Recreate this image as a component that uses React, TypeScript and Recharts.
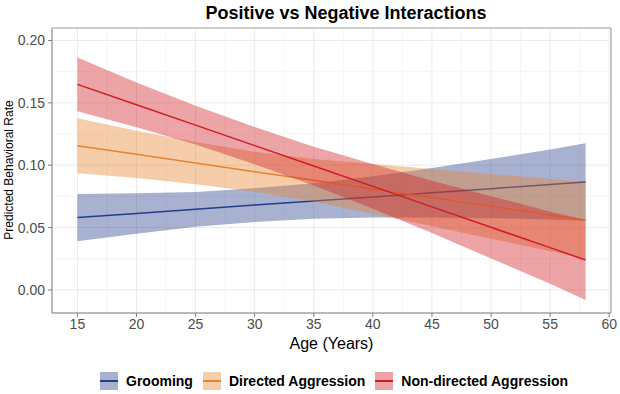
import React from 'react';
import { ComposedChart, Area, Line, XAxis, YAxis, CartesianGrid, ReferenceLine } from 'recharts';

const ages = [15, 20, 25, 30, 35, 40, 45, 50, 55, 58];

const groomingFit = [0.058, 0.0613, 0.0646, 0.068, 0.0713, 0.0746, 0.0779, 0.0812, 0.0845, 0.0865];
const groomingLower = [0.039, 0.045, 0.0506, 0.0545, 0.057, 0.058, 0.058, 0.0575, 0.0565, 0.0555];
const groomingUpper = [0.077, 0.0776, 0.0786, 0.0815, 0.0856, 0.0912, 0.0978, 0.105, 0.1125, 0.1175];

const directedFit = [0.1156, 0.1087, 0.1017, 0.0948, 0.0879, 0.081, 0.074, 0.067, 0.06, 0.056];
const directedLower = [0.0936, 0.0897, 0.0847, 0.0788, 0.0709, 0.061, 0.051, 0.041, 0.031, 0.025];
const directedUpper = [0.1376, 0.1277, 0.1187, 0.1108, 0.1049, 0.101, 0.097, 0.093, 0.089, 0.087];

const nonDirectedFit = [0.1648, 0.1484, 0.1321, 0.1157, 0.0993, 0.083, 0.0666, 0.0502, 0.0339, 0.024];
const nonDirectedLower = [0.1433, 0.1304, 0.1166, 0.1007, 0.0838, 0.065, 0.0456, 0.0252, 0.0049, -0.008];
const nonDirectedUpper = [0.1863, 0.1664, 0.1476, 0.1307, 0.1148, 0.101, 0.0876, 0.0752, 0.0629, 0.056];

const xTicks = [15, 20, 25, 30, 35, 40, 45, 50, 55, 60];
const xMinor = [17.5, 22.5, 27.5, 32.5, 37.5, 42.5, 47.5, 52.5, 57.5];
const yTicks = [0, 0.05, 0.1, 0.15, 0.2];
const yMinor = [0.025, 0.075, 0.125, 0.175];
const xDomain = [12.85, 60.15];
const yDomain = [-0.0185, 0.21];

const seriesNames = ['Grooming', 'Directed Aggression', 'Non-directed Aggression'];
const colors = ['#253c89', '#e8822e', '#d01c24'];

const data = ages.map((age, i) => ({
  age,
  gFit: groomingFit[i],
  gBand: [groomingLower[i], groomingUpper[i]],
  dFit: directedFit[i],
  dBand: [directedLower[i], directedUpper[i]],
  nFit: nonDirectedFit[i],
  nBand: [nonDirectedLower[i], nonDirectedUpper[i]],
}));

const FONT = '"Liberation Sans", Arial, Helvetica, sans-serif';

export default function App() {
  const keys = [
    ['gBand', 'gFit'],
    ['dBand', 'dFit'],
    ['nBand', 'nFit'],
  ];
  return (
    <div style={{ position: 'absolute', left: 0, top: 0, width: 620, height: 394, background: '#fff', fontFamily: FONT }}>
      <ComposedChart
        width={620}
        height={394}
        data={data}
        margin={{ top: 28, right: 9, bottom: 0, left: 0 }}
      >
        <CartesianGrid stroke="#ebebeb" strokeWidth={1} />
        {xMinor.map((v) => (
          <ReferenceLine key={'xm' + v} x={v} stroke="#f3f3f3" strokeWidth={0.8} zIndex={-90} />
        ))}
        {yMinor.map((v) => (
          <ReferenceLine key={'ym' + v} y={v} stroke="#f3f3f3" strokeWidth={0.8} zIndex={-90} />
        ))}
        <XAxis
          dataKey="age"
          type="number"
          domain={xDomain}
          ticks={xTicks}
          allowDataOverflow
          height={81}
          tickSize={4}
          tickMargin={2}
          stroke="#7f7f7f"
          tick={{ fill: '#4d4d4d', fontSize: 14, fontFamily: FONT }}
        />
        <YAxis
          type="number"
          domain={yDomain}
          ticks={yTicks}
          allowDataOverflow
          width={52}
          tickSize={4}
          tickMargin={3}
          stroke="#7f7f7f"
          tickFormatter={(v: number) => v.toFixed(2)}
          tick={{ fill: '#4d4d4d', fontSize: 14, fontFamily: FONT }}
        />
        {keys.flatMap(([band, fit], i) => [
          <Area
            key={band}
            dataKey={band}
            type="linear"
            stroke="none"
            fill={colors[i]}
            fillOpacity={0.4}
            isAnimationActive={false}
            activeDot={false}
            dot={false}
            zIndex={100 + i * 2}
          />,
          <Line
            key={fit}
            dataKey={fit}
            type="linear"
            stroke={colors[i]}
            strokeWidth={1.5}
            dot={false}
            activeDot={false}
            isAnimationActive={false}
            zIndex={101 + i * 2}
          />,
        ])}
        <ReferenceLine y={yDomain[1]} stroke="#a8a8a8" strokeWidth={1.2} zIndex={900} />
        <ReferenceLine x={xDomain[1]} stroke="#a8a8a8" strokeWidth={1.2} zIndex={900} />
      </ComposedChart>

      <div style={{ position: 'absolute', left: 0, width: 692, top: 3, textAlign: 'center', fontWeight: 'bold', fontSize: 18, color: '#000' }}>
        Positive vs Negative Interactions
      </div>

      <div style={{ position: 'absolute', left: 52, width: 559, top: 335, textAlign: 'center', fontSize: 16, color: '#000' }}>
        Age (Years)
      </div>

      <div
        style={{
          position: 'absolute',
          left: 9 - 100,
          top: 170 - 8,
          width: 200,
          height: 16,
          lineHeight: '16px',
          textAlign: 'center',
          fontSize: 12,
          color: '#000',
          transform: 'rotate(-90deg)',
        }}
      >
        Predicted Behavioral Rate
      </div>

      <div style={{ position: 'absolute', left: 100, top: 372, height: 18, display: 'flex', alignItems: 'center' }}>
        {seriesNames.map((name, i) => (
          <div key={name} style={{ display: 'flex', alignItems: 'center', marginRight: 10 }}>
            <div
              style={{
                position: 'relative',
                width: 18,
                height: 18,
                background: colors[i],
                opacity: 0.4,
              }}
            />
            <div style={{ position: 'relative', width: 18, height: 18, marginLeft: -18 }}>
              <div style={{ position: 'absolute', left: 0, right: 0, top: 8, height: 1.5, background: colors[i] }} />
            </div>
            <span style={{ marginLeft: 8, fontWeight: 'bold', fontSize: 14, color: '#000' }}>{name}</span>
          </div>
        ))}
      </div>
    </div>
  );
}
